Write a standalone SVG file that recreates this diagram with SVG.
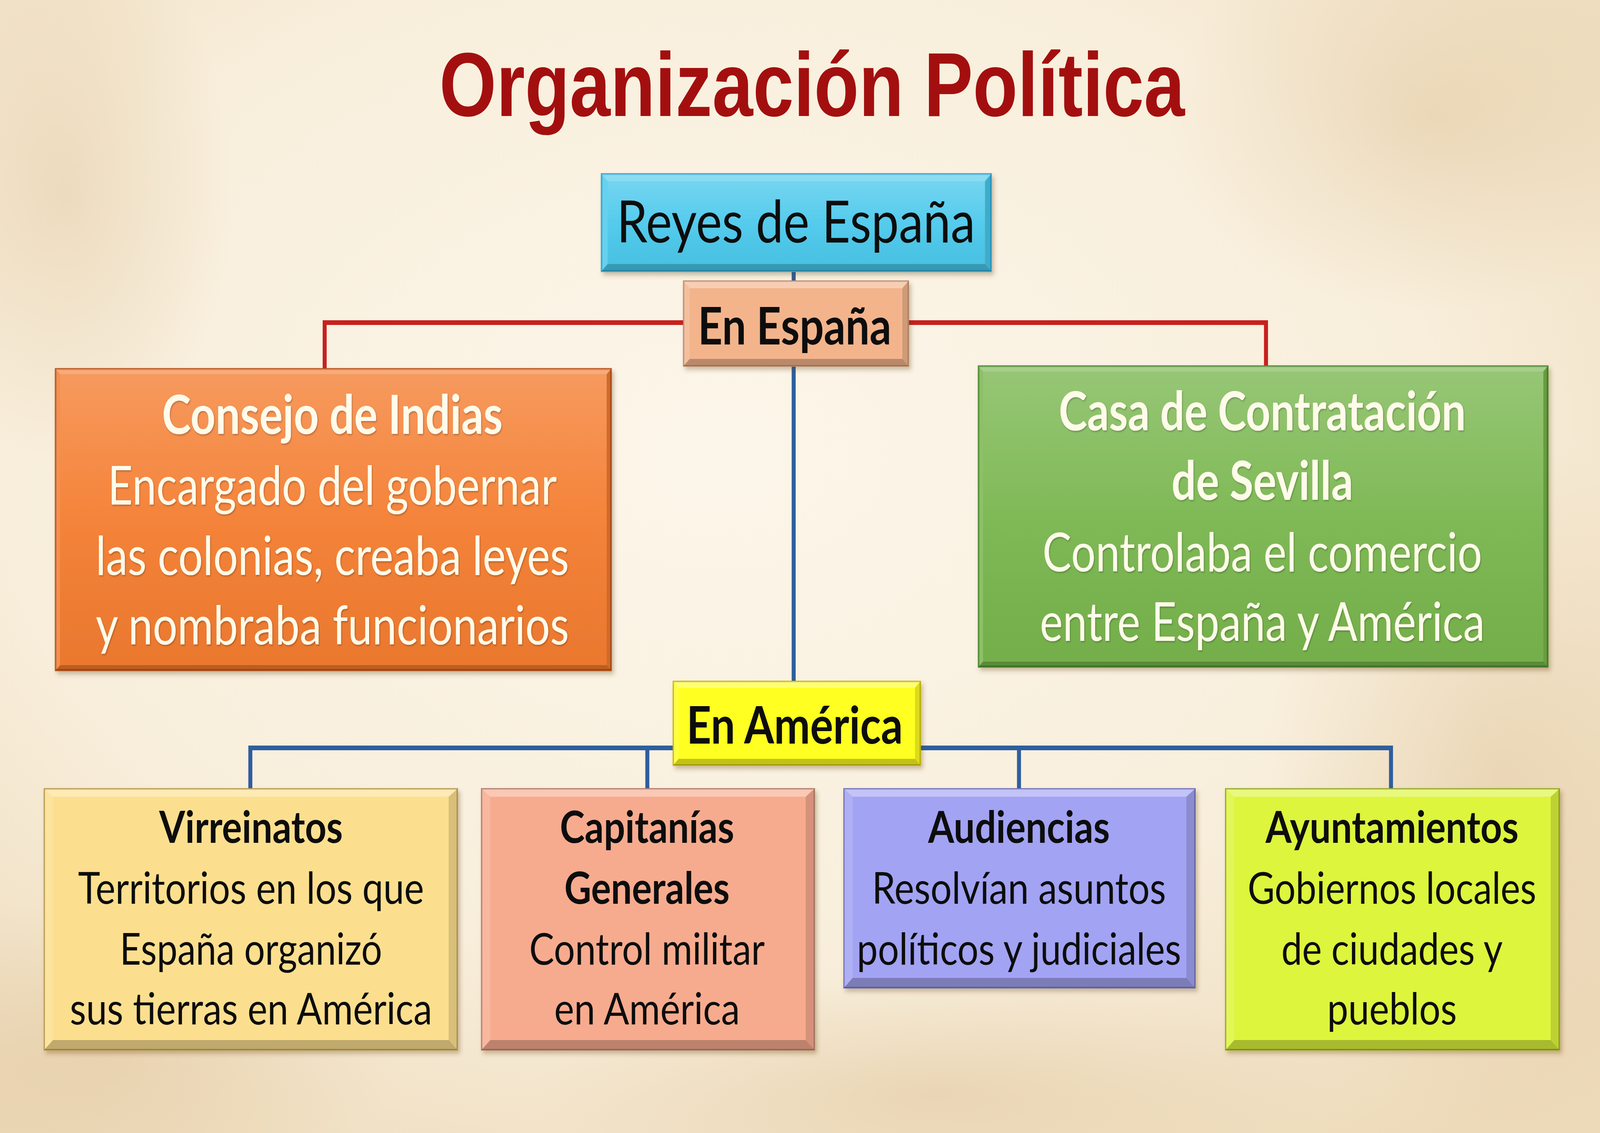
<svg xmlns="http://www.w3.org/2000/svg" width="4800" height="2901" viewBox="0 0 4800 2901" preserveAspectRatio="none" style="width:100vw;height:100vh;display:block">
<defs>
<radialGradient id="bg" cx="0.45" cy="0.4" r="0.75">
<stop offset="0" stop-color="#FCF6EA"/>
<stop offset="0.6" stop-color="#F8EEDB"/>
<stop offset="1" stop-color="#EDDAB9"/>
</radialGradient>
<radialGradient id="stain" cx="0.5" cy="0.5" r="0.5">
<stop offset="0" stop-color="#D9B98A" stop-opacity="0.35"/>
<stop offset="1" stop-color="#D9B98A" stop-opacity="0"/>
</radialGradient>
<filter id="shadow" x="-5%" y="-5%" width="110%" height="115%">
<feDropShadow dx="6" dy="8" stdDeviation="6" flood-color="#5a3a10" flood-opacity="0.3"/>
</filter>
<filter id="tshadow" x="-5%" y="-10%" width="110%" height="130%">
<feDropShadow dx="2" dy="3" stdDeviation="2" flood-color="#000" flood-opacity="0.25"/>
</filter>
<linearGradient id="gloss" x1="0" y1="0" x2="0" y2="1">
<stop offset="0" stop-color="#fff" stop-opacity="0.22"/>
<stop offset="0.5" stop-color="#fff" stop-opacity="0.05"/>
<stop offset="1" stop-color="#000" stop-opacity="0.04"/>
</linearGradient>
</defs>
<style>
.ft{fill:#fff;opacity:.35}
.fl{fill:#fff;opacity:.15}
.fr{fill:#000;opacity:.14}
.fb{fill:#000;opacity:.24}
.gl{fill:url(#gloss)}
.st{fill:url(#stain)}
.t{font-family:Lato,"Open Sans","Noto Sans",sans-serif;text-anchor:middle;fill:#111}
.b{font-weight:bold}
.w{fill:#FFFBEA}
.big{font-size:150px}
.mid{font-size:132px}
.m2{font-size:138px}
.sm{font-size:112px}
.title{font-family:"Liberation Sans",Arial,sans-serif;font-weight:bold;font-size:232px;fill:#A30F0F;text-anchor:middle}
.red{fill:none;stroke:#C8201E;stroke-width:12}
.blue{fill:none;stroke:#2F5E9E;stroke-width:12}
</style>

<rect width="4800" height="2901" fill="url(#bg)"/>
<ellipse class="st" cx="4500" cy="2000" rx="700" ry="900"/>
<ellipse class="st" cx="300" cy="2700" rx="900" ry="400"/>
<ellipse class="st" cx="4300" cy="300" rx="800" ry="500"/>
<ellipse class="st" cx="200" cy="500" rx="500" ry="700"/>
<ellipse class="st" cx="2800" cy="2800" rx="1200" ry="300"/>

<text id="title" class="title" x="2436" y="297" textLength="2236" lengthAdjust="spacingAndGlyphs">Organización Política</text>

<g id="connectors">
<path class="red" d="M974,949 V826 H3798 V940"/>
<path class="blue" d="M2381,690 V724"/>
<path class="blue" d="M2381,935 V1747"/>
<path class="blue" d="M751,2020 V1915 H4173 V2020"/>
<path class="blue" d="M1942,1915 V2020"/>
<path class="blue" d="M3057,1915 V2020"/>
</g>

<g id="reyes" filter="url(#shadow)">
<rect x="1805" y="446" width="1168" height="248" fill="#4CC9EC" stroke="#2AA7D6" stroke-width="5"/>
<polygon class="ft" points="1805,446 2973,446 2955,464 1823,464"/>
<polygon class="fl" points="1805,446 1823,464 1823,676 1805,694"/>
<polygon class="fr" points="2973,446 2973,694 2955,676 2955,464"/>
<polygon class="fb" points="1805,694 2973,694 2955,676 1823,676"/>
<rect x="1823" y="464" width="1132" height="212" class="gl"/>
<text class="t big" x="2388" y="621" textLength="1075" lengthAdjust="spacingAndGlyphs">Reyes de España</text>
</g>

<g id="en-espana" filter="url(#shadow)">
<rect x="2051" y="720" width="674" height="217" fill="#F3B48C" stroke="#B98A6A" stroke-width="4"/>
<polygon class="ft" points="2051,720 2725,720 2707,738 2069,738"/>
<polygon class="fl" points="2051,720 2069,738 2069,919 2051,937"/>
<polygon class="fr" points="2725,720 2725,937 2707,919 2707,738"/>
<polygon class="fb" points="2051,937 2725,937 2707,919 2069,919"/>
<text class="t b mid" x="2384" y="882" textLength="580" lengthAdjust="spacingAndGlyphs">En España</text>
</g>

<g id="consejo" filter="url(#shadow)">
<rect x="167" y="945" width="1666" height="771" fill="#F47D30" stroke="#B9541C" stroke-width="5"/>
<polygon class="ft" points="167,945 1833,945 1820,958 180,958"/>
<polygon class="fl" points="167,945 180,958 180,1703 167,1716"/>
<polygon class="fr" points="1833,945 1833,1716 1820,1703 1820,958"/>
<polygon class="fb" points="167,1716 1833,1716 1820,1703 180,1703"/>
<rect x="180" y="958" width="1640" height="745" class="gl"/>
<g filter="url(#tshadow)">
<text class="t b w m2" x="997" y="1111" textLength="1022" lengthAdjust="spacingAndGlyphs">Consejo de Indias</text>
<text class="t w m2" x="997" y="1292" textLength="1347" lengthAdjust="spacingAndGlyphs">Encargado del gobernar</text>
<text class="t w m2" x="997" y="1472" textLength="1420" lengthAdjust="spacingAndGlyphs">las colonias, creaba leyes</text>
<text class="t w m2" x="997" y="1650" textLength="1420" lengthAdjust="spacingAndGlyphs">y nombraba funcionarios</text>
</g>
</g>

<g id="casa" filter="url(#shadow)">
<rect x="2936" y="938" width="1707" height="769" fill="#79B64E" stroke="#4B8A2C" stroke-width="5"/>
<polygon class="ft" points="2936,938 4643,938 4630,951 2949,951"/>
<polygon class="fl" points="2936,938 2949,951 2949,1694 2936,1707"/>
<polygon class="fr" points="4643,938 4643,1707 4630,1694 4630,951"/>
<polygon class="fb" points="2936,1707 4643,1707 4630,1694 2949,1694"/>
<rect x="2949" y="951" width="1681" height="743" class="gl"/>
<g filter="url(#tshadow)">
<text class="t b w m2" x="3787" y="1102" textLength="1221" lengthAdjust="spacingAndGlyphs">Casa de Contratación</text>
<text class="t b w m2" x="3787" y="1280" textLength="545" lengthAdjust="spacingAndGlyphs">de Sevilla</text>
<text class="t w m2" x="3787" y="1463" textLength="1319" lengthAdjust="spacingAndGlyphs">Controlaba el comercio</text>
<text class="t w m2" x="3787" y="1641" textLength="1335" lengthAdjust="spacingAndGlyphs">entre España y América</text>
</g>
</g>

<g id="en-america" filter="url(#shadow)">
<rect x="2020" y="1745" width="741" height="214" fill="#FFFF22" stroke="#C9B800" stroke-width="4"/>
<polygon class="ft" points="2020,1745 2761,1745 2745,1761 2036,1761"/>
<polygon class="fl" points="2020,1745 2036,1761 2036,1943 2020,1959"/>
<polygon class="fr" points="2761,1745 2761,1959 2745,1943 2745,1761"/>
<polygon class="fb" points="2020,1959 2761,1959 2745,1943 2036,1943"/>
<text class="t b mid" x="2384" y="1904" textLength="649" lengthAdjust="spacingAndGlyphs">En América</text>
</g>

<g id="virreinatos" filter="url(#shadow)">
<rect x="133" y="2020" width="1239" height="668" fill="#FCDF8E" stroke="#B89A50" stroke-width="4"/>
<polygon class="ft" points="133,2020 1372,2020 1346,2040 159,2040"/>
<polygon class="fl" points="133,2020 159,2040 159,2663 133,2688"/>
<polygon class="fr" points="1372,2020 1372,2688 1346,2663 1346,2040"/>
<polygon class="fb" points="133,2688 1372,2688 1346,2663 159,2663"/>
<text class="t b sm" x="753" y="2158" textLength="551" lengthAdjust="spacingAndGlyphs">Virreinatos</text>
<text class="t sm" x="753" y="2314" textLength="1038" lengthAdjust="spacingAndGlyphs">Territorios en los que</text>
<text class="t sm" x="753" y="2470" textLength="787" lengthAdjust="spacingAndGlyphs">España organizó</text>
<text class="t sm" x="753" y="2623" textLength="1087" lengthAdjust="spacingAndGlyphs">sus tierras en América</text>
</g>

<g id="capitanias" filter="url(#shadow)">
<rect x="1445" y="2020" width="998" height="668" fill="#F7AB8E" stroke="#B07A6A" stroke-width="4"/>
<polygon class="ft" points="1445,2020 2443,2020 2417,2040 1471,2040"/>
<polygon class="fl" points="1445,2020 1471,2040 1471,2663 1445,2688"/>
<polygon class="fr" points="2443,2020 2443,2688 2417,2663 2417,2040"/>
<polygon class="fb" points="1445,2688 2443,2688 2417,2663 1471,2663"/>
<text class="t b sm" x="1941" y="2158" textLength="523" lengthAdjust="spacingAndGlyphs">Capitanías</text>
<text class="t b sm" x="1941" y="2314" textLength="496" lengthAdjust="spacingAndGlyphs">Generales</text>
<text class="t sm" x="1941" y="2470" textLength="707" lengthAdjust="spacingAndGlyphs">Control militar</text>
<text class="t sm" x="1941" y="2623" textLength="557" lengthAdjust="spacingAndGlyphs">en América</text>
</g>

<g id="audiencias" filter="url(#shadow)">
<rect x="2532" y="2020" width="1053" height="509" fill="#A2A3F3" stroke="#6E70B8" stroke-width="4"/>
<polygon class="ft" points="2532,2020 3585,2020 3559,2040 2558,2040"/>
<polygon class="fl" points="2532,2020 2558,2040 2558,2504 2532,2529"/>
<polygon class="fr" points="3585,2020 3585,2529 3559,2504 3559,2040"/>
<polygon class="fb" points="2532,2529 3585,2529 3559,2504 2558,2504"/>
<text class="t b sm" x="3057" y="2158" textLength="545" lengthAdjust="spacingAndGlyphs">Audiencias</text>
<text class="t sm" x="3057" y="2314" textLength="882" lengthAdjust="spacingAndGlyphs">Resolvían asuntos</text>
<text class="t sm" x="3057" y="2470" textLength="973" lengthAdjust="spacingAndGlyphs">políticos y judiciales</text>
</g>

<g id="ayuntamientos" filter="url(#shadow)">
<rect x="3677" y="2020" width="1001" height="668" fill="#DDF53C" stroke="#96AA22" stroke-width="4"/>
<polygon class="ft" points="3677,2020 4678,2020 4652,2040 3703,2040"/>
<polygon class="fl" points="3677,2020 3703,2040 3703,2663 3677,2688"/>
<polygon class="fr" points="4678,2020 4678,2688 4652,2663 4652,2040"/>
<polygon class="fb" points="3677,2688 4678,2688 4652,2663 3703,2663"/>
<text class="t b sm" x="4176" y="2158" textLength="759" lengthAdjust="spacingAndGlyphs">Ayuntamientos</text>
<text class="t sm" x="4176" y="2314" textLength="866" lengthAdjust="spacingAndGlyphs">Gobiernos locales</text>
<text class="t sm" x="4176" y="2470" textLength="664" lengthAdjust="spacingAndGlyphs">de ciudades y</text>
<text class="t sm" x="4176" y="2623" textLength="389" lengthAdjust="spacingAndGlyphs">pueblos</text>
</g>
</svg>
